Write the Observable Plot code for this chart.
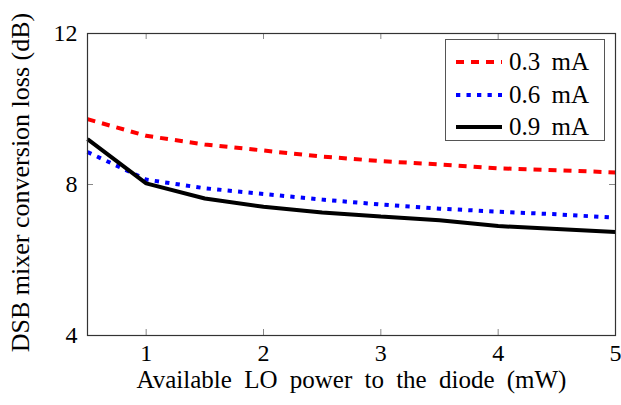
<!DOCTYPE html>
<html>
<head>
<meta charset="utf-8">
<script src="https://cdn.jsdelivr.net/npm/d3@7"></script>
<script src="https://cdn.jsdelivr.net/npm/@observablehq/plot@0.6"></script>
<style>
  html, body { margin: 0; padding: 0; background: #fff; }
  #wrap { position: relative; width: 621px; height: 405px; font-family: "Liberation Serif", serif; }
  #wrap svg { overflow: visible; font-family: "Liberation Serif", serif; }
  #wrap svg text { font-family: "Liberation Serif", serif; }
  #legend { position: absolute; left: 445px; top: 39px; width: 160px; height: 102px; border: 1px solid #555; background: #fff; box-sizing: border-box; }
  .row { position: absolute; left: 0; height: 30px; display: flex; align-items: center; font-family: "Liberation Serif", serif; font-size: 25px; color: #000; word-spacing: 5px; }
  .row svg { margin-left: 10px; margin-right: 7px; }
  .xlab { word-spacing: 6px; }
</style>
</head>
<body>
<div id="wrap"></div>
<script>
const power = [0.5, 1, 1.5, 2, 2.5, 3, 3.5, 4, 4.5, 5];
const loss03 = [9.73, 9.29, 9.06, 8.9, 8.74, 8.62, 8.53, 8.43, 8.38, 8.32];
const loss06 = [8.86, 8.13, 7.9, 7.75, 7.6, 7.47, 7.36, 7.28, 7.21, 7.12];
const loss09 = [9.2, 8.03, 7.63, 7.41, 7.26, 7.15, 7.05, 6.9, 6.82, 6.74];
const seriesNames = ["0.3 mA", "0.6 mA", "0.9 mA"];
const seriesColors = ["#ff0000", "#0000ff", "#000000"];
const seriesDash = ["8,7", "4.3,6.2", null];
const xTicks = [1, 2, 3, 4, 5];
const yTicks = [4, 8, 12];
const xLabel = "Available LO power to the diode (mW)";
const yLabel = "DSB mixer conversion loss (dB)";

const W = 621, H = 405, mL = 87, mR = 6, mT = 33, mB = 70;
const pw = W - mL - mR, ph = H - mT - mB, tl = 6;

const allSeries = [loss03, loss06, loss09];
const rows = [];
allSeries.forEach((vals, s) => vals.forEach((v, i) => rows.push({x: power[i], y: v, s})));

const lineMarks = allSeries.map((vals, s) =>
  Plot.line(rows.filter(r => r.s === s), {
    x: "x", y: "y", stroke: seriesColors[s], strokeWidth: 4,
    strokeDasharray: seriesDash[s] || undefined, strokeLinecap: "butt", strokeLinejoin: "miter"
  })
);

const chart = Plot.plot({
  width: W, height: H,
  marginLeft: mL, marginRight: mR, marginTop: mT, marginBottom: mB,
  style: {fontFamily: "'Liberation Serif', serif", fontSize: "24px", color: "#000", background: "#fff", overflow: "visible"},
  x: {domain: [0.5, 5], label: null},
  y: {domain: [4, 12], label: null},
  marks: [
    Plot.tickX(xTicks.filter(t => t < 5), {x: d => d, insetTop: ph - tl, stroke: "#888"}),
    Plot.tickX(xTicks.filter(t => t < 5), {x: d => d, insetBottom: ph - tl, stroke: "#888"}),
    Plot.tickY(yTicks.filter(t => t > 4 && t < 12), {y: d => d, insetRight: pw - tl, stroke: "#888"}),
    Plot.tickY(yTicks.filter(t => t > 4 && t < 12), {y: d => d, insetLeft: pw - tl, stroke: "#888"}),
    ...lineMarks,
    Plot.frame({stroke: "#333", strokeWidth: 1.2}),
    Plot.axisX(xTicks, {tickSize: 0, tickPadding: 8, fontSize: 24, tickFormat: d3.format("d"), label: null}),
    Plot.axisY(yTicks, {tickSize: 0, tickPadding: 10, fontSize: 24, tickFormat: d3.format("d"), label: null}),
    Plot.text([xLabel], {frameAnchor: "bottom", dy: 52, fontSize: 25, text: d => d, className: "xlab"}),
    Plot.text([yLabel], {frameAnchor: "left", dx: -67, dy: -2, rotate: -90, textAnchor: "middle", fontSize: 26, text: d => d})
  ]
});

const wrap = document.getElementById("wrap");
wrap.appendChild(chart);

const legend = document.createElement("div");
legend.id = "legend";
seriesNames.forEach((name, s) => {
  const row = document.createElement("div");
  row.className = "row";
  row.style.top = (7 + s * 32.5) + "px";
  const dash = seriesDash[s] ? `stroke-dasharray="${seriesDash[s]}"` : "";
  row.innerHTML = `<svg width="46" height="10"><line x1="0" y1="5" x2="46" y2="5" stroke="${seriesColors[s]}" stroke-width="4" ${dash}/></svg><span>${name}</span>`;
  legend.appendChild(row);
});
wrap.appendChild(legend);
</script>
</body>
</html>
